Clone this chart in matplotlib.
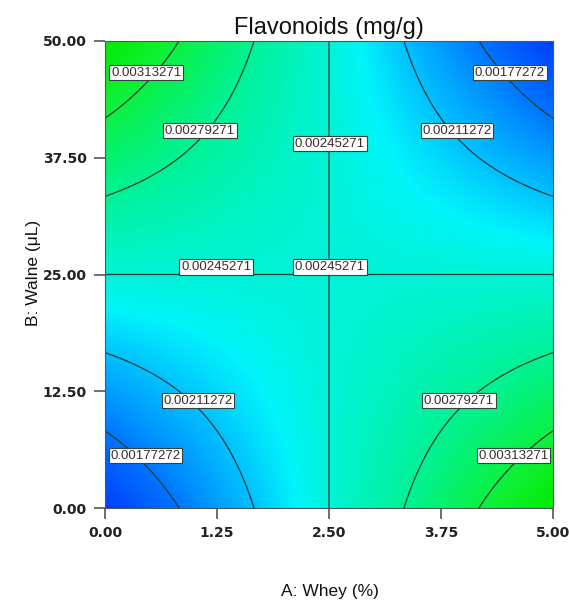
import numpy as np
import matplotlib
matplotlib.use('Agg')
from matplotlib import pyplot as plt
from matplotlib.colors import LinearSegmentedColormap

# factor ranges and ticks
whey_range = [0.0, 5.0]        # A: Whey (%)
walne_range = [0.0, 50.0]      # B: Walne (uL)
whey_ticks = [0.00, 1.25, 2.50, 3.75, 5.00]
walne_ticks = [0.00, 12.50, 25.00, 37.50, 50.00]

# fitted model in coded units: Y = b0 + bAB * A * B
b0 = 0.00245271
bAB = -0.001016

# contour levels shown on the plot
levels = [0.00177272, 0.00211272, 0.00245271, 0.00279271, 0.00313271]

# where each contour label sits (A, B, level index)
label_A = [0.46, 1.06, 2.51, 3.93, 4.52, 1.24, 2.51, 1.04, 0.45, 3.95, 4.56]
label_B = [46.6, 40.4, 39.0, 40.4, 46.6, 25.8, 25.8, 11.5, 5.6, 11.5, 5.6]
label_lvl = [4, 3, 2, 1, 0, 2, 2, 1, 0, 3, 4]

A = np.linspace(whey_range[0], whey_range[1], 301)
B = np.linspace(walne_range[0], walne_range[1], 301)
AA, BB = np.meshgrid(A, B)
xa = (AA - 2.5) / 2.5
xb = (BB - 25.0) / 25.0
Z = b0 + bAB * xa * xb

cmap = LinearSegmentedColormap.from_list('de', [
    (0.00, (0/255, 62/255, 250/255)),
    (0.15, (0/255, 112/255, 255/255)),
    (0.33, (0/255, 192/255, 255/255)),
    (0.43, (0/255, 245/255, 250/255)),
    (0.50, (0/255, 243/255, 215/255)),
    (0.67, (0/255, 242/255, 148/255)),
    (0.87, (15/255, 240/255, 50/255)),
    (1.00, (0/255, 235/255, 0/255)),
])

fig = plt.figure(figsize=(5.69, 6.10), dpi=100)
ax = fig.add_axes([0.1845, 0.1672, 0.7873, 0.7656])

ax.pcolormesh(AA, BB, Z, cmap=cmap, shading='gouraud',
              vmin=Z.min(), vmax=Z.max(), rasterized=True)
ax.contour(AA, BB, Z, levels=levels, colors='#1e3b34', linewidths=0.9)

for a, b, i in zip(label_A, label_B, label_lvl):
    ax.text(a, b, '%.8f' % levels[i], ha='center', va='center',
            fontsize=9.5, family='Liberation Sans', color='#3b2a2c',
            bbox=dict(boxstyle='square,pad=0.12', facecolor='white',
                      edgecolor='#2f4640', linewidth=0.8))

ax.set_xlim(whey_range)
ax.set_ylim(walne_range)
ax.set_xticks(whey_ticks)
ax.set_yticks(walne_ticks)
ax.set_xticklabels(['%.2f' % t for t in whey_ticks])
ax.set_yticklabels(['%.2f' % t for t in walne_ticks])
ax.tick_params(direction='out', length=8, width=1.2, color='#555555',
               labelsize=10, pad=5, labelcolor='#222222')
for lab in ax.get_xticklabels() + ax.get_yticklabels():
    lab.set_fontweight('bold')
for s in ax.spines.values():
    s.set_color('#4a5a58')
    s.set_linewidth(0.8)

ax.set_title('Flavonoids (mg/g)', fontsize=17, family='Liberation Sans',
             color='#111111', pad=5)
fig.text(0.58, 0.031, 'A: Whey (%)', ha='center', va='center',
         fontsize=12.5, family='Liberation Sans', color='#111111')
fig.text(0.058, 0.552, 'B: Walne (\u03bcL)', ha='center', va='center',
         rotation=90, fontsize=12.5, family='Liberation Sans', color='#111111')

fig.savefig('out.png', dpi=100)
